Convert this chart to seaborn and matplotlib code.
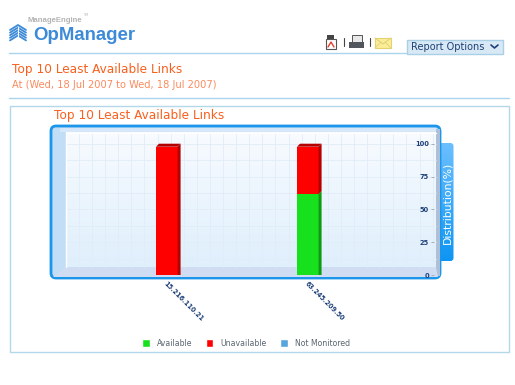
import numpy as np
import pandas as pd
import matplotlib
matplotlib.use('Agg')
import matplotlib.pyplot as plt
import matplotlib.transforms as mtrans
from matplotlib.patches import FancyBboxPatch, Rectangle, Polygon, Patch
import seaborn as sns

# chart data
links = ['15.216.110.21', '63.245.209.50']
available = [0, 64]
unavailable = [100, 36]
not_monitored = [0, 0]
y_ticks = [0, 25, 50, 75, 100]
legend_labels = ['Available', 'Unavailable', 'Not Monitored']

df = pd.DataFrame({'link': links, 'available': available, 'unavailable': unavailable,
                   'not_monitored': not_monitored})
df['total'] = df['available'] + df['unavailable'] + df['not_monitored']

GREEN = '#17e01c'
RED = '#ff0000'
BLUE = '#56a5dc'
LINE = '#a9d6ec'
ORANGE = '#f8601e'
NAVY = '#1d3f78'

sns.set_style('white')
plt.rcParams['font.family'] = ['DejaVu Sans']
W, H = 515, 385
fig = plt.figure(figsize=(W / 100, H / 100), dpi=100, facecolor='white')

# page furniture, in pixel coordinates
page = fig.add_axes([0, 0, 1, 1], zorder=0)
page.set_xlim(0, W)
page.set_ylim(H, 0)
page.axis('off')

page.plot([9, 406], [52.5, 52.5], color=LINE, lw=1)
page.plot([9, 509], [97.5, 97.5], color=LINE, lw=1)
page.add_patch(Rectangle((9.5, 105.5), 499, 246, fc='white', ec='#b3d8ea', lw=1))

# logo
for i in range(5):
    page.plot([10, 18, 26], [30 + i * 2.6, 25 + i * 2.6, 30 + i * 2.6], color='#3d8bd8', lw=1.3)
page.plot([18, 18], [27, 42], color='white', lw=0.8)
page.text(28, 20, 'ManageEngine', fontsize=5.6, color='#b4b4b4', weight='bold',
          family='Liberation Sans', va='center')
page.text(83, 15.5, 'TM', fontsize=2.5, color='#b4b4b4', va='center')
page.text(33, 36, 'OpManager', fontsize=13.4, color='#3d8bd8', weight='bold',
          family='Liberation Sans', va='center')

# toolbar icons
page.add_patch(Rectangle((326, 39), 10, 10, fc='white', ec='#555555', lw=0.8))
page.add_patch(Rectangle((327, 35), 7, 4, fc='#444444', ec='none'))
page.plot([328, 331, 334], [47, 42, 47], color='#e0402a', lw=1)
page.plot([343.5, 343.5], [38, 46], color='#444444', lw=0.8)
page.add_patch(Rectangle((352, 35), 10, 7, fc='#e8e8e8', ec='#555555', lw=0.7))
page.add_patch(Rectangle((349, 42), 15, 6, fc='#50565c', ec='none'))
page.plot([369.5, 369.5], [38, 46], color='#444444', lw=0.8)
page.add_patch(Rectangle((375, 38), 16, 10, fc='#fbee9a', ec='#e3d272', lw=0.8))
page.plot([375, 383, 391], [38, 44, 38], color='#e3d272', lw=0.8)
page.plot([375, 381], [48, 42], color='#e3d272', lw=0.6)
page.plot([391, 385], [48, 42], color='#e3d272', lw=0.6)

# report options button
page.add_patch(Rectangle((406.5, 39.5), 96, 14, fc='#d8e9f5', ec='#a9d0e6', lw=1))
page.text(411, 47, 'Report Options', fontsize=7.0, color=NAVY, va='center')
page.plot([491, 494.5, 498], [45, 48, 45], color=NAVY, lw=1.2)

# headings
page.text(12, 69, 'Top 10 Least Available Links', fontsize=8.7, color=ORANGE, va='center')
page.text(12, 85, 'At (Wed, 18 Jul 2007 to Wed, 18 Jul 2007)', fontsize=7.1, color='#fb8a5e', va='center')
page.text(54, 115, 'Top 10 Least Available Links', fontsize=8.7, color=ORANGE, va='center')

# side tab
tab_grad = np.linspace(0, 1, 100).reshape(-1, 1)
tab_cmap = matplotlib.colors.LinearSegmentedColormap.from_list('tab', ['#6cbfff', '#0d95f3'])
tab = page.imshow(tab_grad, extent=(436, 454, 262, 142), cmap=tab_cmap, aspect='auto', zorder=1)
tab_clip = FancyBboxPatch((436, 143), 17.5, 118, boxstyle='round,pad=0,rounding_size=3',
                          transform=page.transData, fc='none', ec='none')
page.add_patch(tab_clip)
tab.set_clip_path(tab_clip)
page.text(447.5, 203, 'Distribution(%)', fontsize=7.8, color='white', rotation=90,
          ha='center', va='center', zorder=5)

# chart frame
page.add_patch(FancyBboxPatch((51, 126), 389, 152, boxstyle='round,pad=0,rounding_size=5',
                              fc='#c2def7', ec='#1b96ea', lw=2, zorder=2))
wall_cmap = matplotlib.colors.LinearSegmentedColormap.from_list('wall', ['#f8fbff', '#dfeffc'])
page.imshow(tab_grad, extent=(66, 436, 267, 132), cmap=wall_cmap, aspect='auto', zorder=3)
page.add_patch(Rectangle((436, 129), 4, 147, fc='#aebfd8', ec='none', zorder=3))
page.add_patch(Polygon([(66, 267), (436, 267), (438, 277), (53, 277)], fc='#cfdcf1', ec='none', zorder=3))
page.add_patch(Rectangle((60, 128), 376, 4, fc='#d5e7f8', ec='none', zorder=3))
page.plot([66, 66], [132, 267], color='white', lw=1, zorder=4)
page.plot([66, 436], [132.5, 132.5], color='white', lw=1, zorder=4)
for gx in np.arange(79, 436, 13.1):
    page.plot([gx, gx], [133, 267], color='#e0edf8', lw=0.6, zorder=3.5)
for gy in np.arange(143.7, 267, 16.4):
    page.plot([66, 436], [gy, gy], color='#e0edf8', lw=0.6, zorder=3.5)
page.set_xlim(0, W)
page.set_ylim(H, 0)

# the bars
left, right, top, bottom = 66, 434, 132, 275
ax = fig.add_axes([left / W, 1 - bottom / H, (right - left) / W, (bottom - top) / H], zorder=2)
ax.patch.set_alpha(0)
sns.barplot(data=df, x='link', y='total', color=RED, saturation=1, width=0.153, ax=ax)
sns.barplot(data=df, x='link', y='available', color=GREEN, saturation=1, width=0.153, ax=ax)

px_per_x = 141
px_per_y = 1.313
x0 = -(166.8 - left) / px_per_x
ax.set_xlim(x0, x0 + (right - left) / px_per_x)
ax.set_ylim(0, (bottom - top) / px_per_y)

# front faces sit 3px below the back edge, the sides and top fill the gap
shift = mtrans.ScaledTranslation(0, -3 / 100, fig.dpi_scale_trans)
for p in ax.patches:
    p.set_transform(ax.transData + shift)
    p.set_linewidth(0)
dx = 3 / px_per_x
dy = 3 / px_per_y
half = 0.153 / 2
for i in range(len(df)):
    base = 0
    for val, col in [(df['available'][i], '#0f9a14'), (df['unavailable'][i], '#b30000')]:
        if val > 0:
            ax.add_patch(Polygon([(i + half, base - dy), (i + half, base + val - dy),
                                  (i + half + dx, base + val), (i + half + dx, base)],
                                 fc=col, ec='none', zorder=5))
        base += val
    ax.add_patch(Polygon([(i - half, base - dy), (i - half + dx, base),
                          (i + half + dx, base), (i + half, base - dy)],
                         fc='#b30000', ec='none', zorder=5))

sns.despine(ax=ax, left=True, bottom=True, top=True, right=True)
ax.set_xlabel('')
ax.set_ylabel('')
ax.set_yticks(y_ticks)
ax.set_yticklabels([str(v) for v in y_ticks], fontsize=4.8, color=NAVY, weight='bold', ha='right')
ax.get_yticklabels()[0].set_color('#9aa6b8')
ax.yaxis.tick_right()
ax.tick_params(axis='y', direction='in', length=2, width=0.7, color='#a8b0bc', pad=-3.6,
               labelright=True, labelleft=False)
ax.set_xticks(range(len(links)))
ax.set_xticklabels(links, fontsize=4.7, color=NAVY, rotation=-45, ha='left', va='top',
                   rotation_mode='anchor', weight='bold')
ax.tick_params(axis='x', length=0, pad=4)

handles = [Patch(fc=GREEN), Patch(fc=RED), Patch(fc=BLUE)]
fig.legend(handles, legend_labels, ncol=3, frameon=False, fontsize=5.6, labelcolor='#5a6470',
           loc='center', bbox_to_anchor=(246 / W, 1 - 343 / H), handlelength=1.0, handleheight=1.3,
           handletextpad=0.9, columnspacing=1.7)

fig.savefig('out.png', dpi=100)
